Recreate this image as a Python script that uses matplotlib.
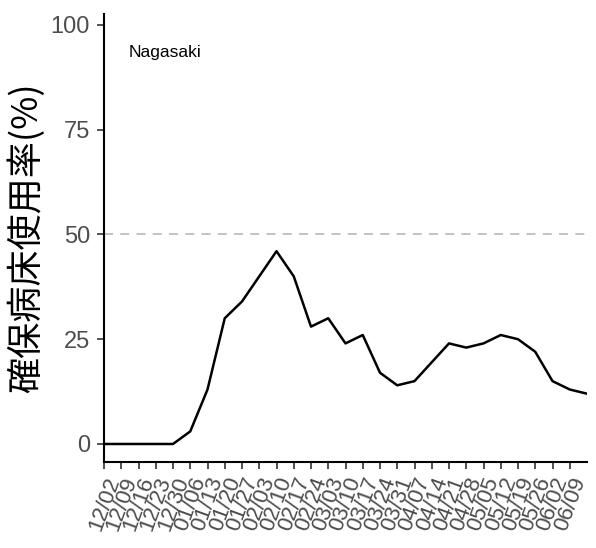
import numpy as np
import pandas as pd
import matplotlib
matplotlib.use("Agg")
import matplotlib.pyplot as plt
import matplotlib.dates as mdates

plt.rcParams['font.family'] = ['Liberation Sans', 'Noto Sans CJK JP', 'DejaVu Sans']

# weekly bed occupancy, Nagasaki
dates = pd.date_range('2020-12-02', periods=29, freq='7D')
usage = [0, 0, 0, 0, 0, 3, 13, 30, 34, 40, 46, 40, 28, 30, 24, 26, 17, 14, 15,
         19.5, 24, 23, 24, 26, 25, 22, 15, 13, 12]
tick_dates = dates[:-1]
tick_labels = [d.strftime('%m/%d') for d in tick_dates]
ref_level = 50

fig = plt.figure(figsize=(5.96, 5.48), dpi=100)
ax = fig.add_axes([104 / 596, 86 / 548, 483 / 596, 448 / 548])

ax.axhline(ref_level, color='#BEBEBE', lw=1.3, ls=(0, (5, 4)), zorder=1)
ax.plot(dates, usage, color='black', lw=1.8, zorder=2)

ax.set_xlim(dates[0], dates[-1])
ax.set_ylim(-4.3, 102.6)
ax.set_yticks([0, 25, 50, 75, 100])
ax.set_xticks(tick_dates)
ax.set_xticklabels(tick_labels, rotation=70, ha='right', va='top',
                   rotation_mode='anchor')

ax.tick_params(axis='both', colors='#333333', labelcolor='#4D4D4D',
               length=5, width=1.2)
ax.tick_params(axis='y', labelsize=17, pad=5)
ax.tick_params(axis='x', labelsize=16, pad=4)

for s in ['top', 'right']:
    ax.spines[s].set_visible(False)
for s in ['left', 'bottom']:
    ax.spines[s].set_linewidth(1.5)

ax.set_ylabel('確保病床使用率(%)', fontsize=26, family=['Noto Sans CJK JP'],
              labelpad=4)
ax.text(0.05, 0.915, 'Nagasaki', transform=ax.transAxes, fontsize=12.5,
        ha='left', va='center')

fig.savefig('out.png', dpi=100)
